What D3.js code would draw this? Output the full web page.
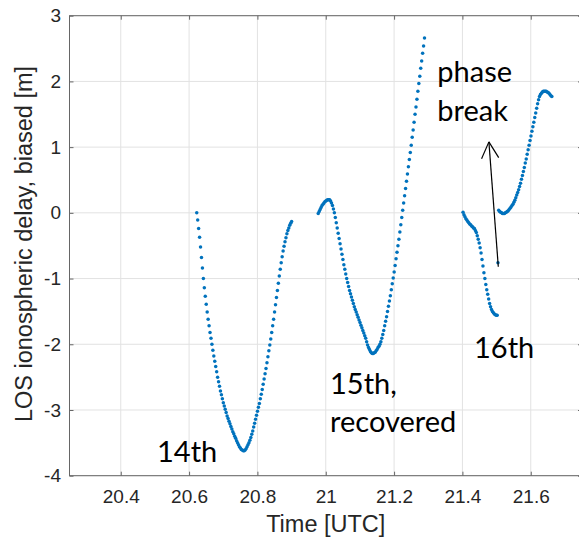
<!DOCTYPE html>
<html>
<head>
<meta charset="utf-8">
<script src="https://cdn.jsdelivr.net/npm/d3@7"></script>
<style>
  body { margin: 0; background: #fff; }
</style>
</head>
<body>
<div id="chart"></div>
<script>
// LOS ionospheric delay over three passes, 10 s samples
const width = 579, height = 539;
const plot = {left: 69.5, right: 582, top: 15.7, bottom: 475.7};
const tickFont = 19, labelFont = 23.5, noteFont = 29;

const xTicks = [20.4, 20.6, 20.8, 21, 21.2, 21.4, 21.6];
const yTicks = [-4, -3, -2, -1, 0, 1, 2, 3];

const sampleStep = 10 / 3600; // hours between samples
const passStart = [20.6224, 20.978, 21.4018, 21.5062];

const pass14 = [
  0.00, -0.11, -0.24, -0.37, -0.52, -0.68, -0.84, -1.00, -1.14, -1.27,
  -1.39, -1.51, -1.62, -1.72, -1.82, -1.91, -2.00, -2.09, -2.18, -2.26,
  -2.34, -2.42, -2.50, -2.57, -2.64, -2.71, -2.77, -2.83, -2.89, -2.94,
  -2.99, -3.04, -3.09, -3.13, -3.17, -3.21, -3.25, -3.29, -3.33, -3.36,
  -3.40, -3.43, -3.47, -3.50, -3.53, -3.56, -3.58, -3.60, -3.61, -3.62,
  -3.62, -3.61, -3.59, -3.56, -3.53, -3.50, -3.46, -3.42, -3.37, -3.32,
  -3.26, -3.20, -3.14, -3.08, -3.02, -2.96, -2.90, -2.83, -2.76, -2.69,
  -2.61, -2.53, -2.45, -2.37, -2.28, -2.19, -2.10, -2.01, -1.92, -1.82,
  -1.72, -1.62, -1.51, -1.40, -1.29, -1.18, -1.07, -0.96, -0.86, -0.76,
  -0.67, -0.58, -0.51, -0.44, -0.38, -0.32, -0.27, -0.23, -0.19, -0.16,
  -0.13
];

const pass15 = [
  -0.01, 0.02, 0.05, 0.08, 0.11, 0.13, 0.15, 0.17, 0.18, 0.19,
  0.20, 0.20, 0.20, 0.18, 0.15, 0.11, 0.06, 0.00, -0.07, -0.15,
  -0.23, -0.31, -0.39, -0.47, -0.55, -0.63, -0.71, -0.79, -0.86, -0.93,
  -1.00, -1.06, -1.12, -1.18, -1.23, -1.28, -1.33, -1.38, -1.43, -1.47,
  -1.51, -1.55, -1.59, -1.63, -1.67, -1.71, -1.75, -1.79, -1.83, -1.87,
  -1.91, -1.96, -2.01, -2.05, -2.08, -2.11, -2.13, -2.14, -2.14, -2.13,
  -2.12, -2.10, -2.08, -2.05, -2.03, -2.00, -1.96, -1.91, -1.85, -1.79,
  -1.72, -1.65, -1.58, -1.50, -1.42, -1.34, -1.26, -1.17, -1.08, -0.99,
  -0.90, -0.80, -0.70, -0.60, -0.50, -0.40, -0.29, -0.18, -0.07, 0.04,
  0.15, 0.26, 0.37, 0.48, 0.59, 0.70, 0.81, 0.92, 1.03, 1.15,
  1.26, 1.38, 1.50, 1.61, 1.73, 1.85, 1.97, 2.08, 2.20, 2.31,
  2.43, 2.54, 2.66
];

const pass16a = [
  0.01, -0.03, -0.06, -0.09, -0.11, -0.13, -0.15, -0.17, -0.18, -0.20,
  -0.21, -0.23, -0.24, -0.27, -0.30, -0.35, -0.40, -0.46, -0.53, -0.61,
  -0.71, -0.81, -0.91, -1.00, -1.09, -1.17, -1.24, -1.31, -1.38, -1.43,
  -1.47, -1.50, -1.52, -1.54, -1.55, -1.56, -1.56
];

const pass16b = [
  0.04, 0.02, 0.01, 0.00, -0.01, -0.01, -0.01, 0.00, 0.01, 0.02,
  0.03, 0.05, 0.07, 0.09, 0.11, 0.13, 0.16, 0.19, 0.23, 0.27,
  0.31, 0.35, 0.40, 0.45, 0.51, 0.57, 0.63, 0.69, 0.76, 0.82,
  0.89, 0.96, 1.03, 1.10, 1.17, 1.24, 1.31, 1.38, 1.45, 1.52,
  1.59, 1.66, 1.72, 1.77, 1.80, 1.82, 1.84, 1.85, 1.85, 1.85,
  1.85, 1.84, 1.83, 1.82, 1.80, 1.78, 1.77
];

// single sample sitting at the tail of the phase-break arrow
const breakSample = {t: 21.504, v: -0.76};

const notes = [
  {lines: ["14th"], t: 20.5062, v: -3.79},
  {lines: ["15th,", "recovered"], t: 21.0125, v: -2.75},
  {lines: ["16th"], t: 21.434, v: -2.216},
  {lines: ["phase", "break"], t: 21.3265, v: 1.985}
];
const arrowFrom = {t: 21.505, v: -0.82}, arrowTo = {t: 21.4775, v: 1.08};

const svg = d3.select("#chart").append("svg")
  .attr("width", width).attr("height", height).attr("viewBox", `0 0 ${width} ${height}`);

const x = d3.scaleLinear().domain([20.25, 21.75]).range([plot.left, plot.right]);
const y = d3.scaleLinear().domain([-4, 3]).range([plot.bottom, plot.top]);

// grid
svg.append("g").selectAll("line").data(xTicks).join("line")
  .attr("x1", d => x(d)).attr("x2", d => x(d))
  .attr("y1", plot.top).attr("y2", plot.bottom)
  .attr("stroke", "#e2e2e2").attr("stroke-width", 1);
svg.append("g").selectAll("line").data(yTicks).join("line")
  .attr("x1", plot.left).attr("x2", plot.right)
  .attr("y1", d => y(d)).attr("y2", d => y(d))
  .attr("stroke", "#e2e2e2").attr("stroke-width", 1);

// axes, inward ticks on all four sides
const fmt = d => String(+(+d).toFixed(1));
function styleAxis(g, labels) {
  g.select(".domain").remove();
  g.selectAll(".tick line").attr("stroke", "#666");
  g.selectAll("text").attr("font-family", "'Liberation Sans', Arial, sans-serif")
    .attr("font-size", tickFont).attr("fill", "#262626");
  if (!labels) g.selectAll("text").remove();
}
svg.append("g").attr("transform", `translate(0,${plot.bottom})`)
  .call(d3.axisBottom(x).tickValues(xTicks).tickFormat(fmt).tickSize(-4).tickPadding(14))
  .call(styleAxis, true);
svg.append("g").attr("transform", `translate(0,${plot.top})`)
  .call(d3.axisTop(x).tickValues(xTicks).tickSize(-4))
  .call(styleAxis, false);
svg.append("g").attr("transform", `translate(${plot.left},0)`)
  .call(d3.axisLeft(y).tickValues(yTicks).tickFormat(fmt).tickSize(-4).tickPadding(8.5))
  .call(styleAxis, true);
svg.append("g").attr("transform", `translate(${plot.right},0)`)
  .call(d3.axisRight(y).tickValues(yTicks).tickSize(-4))
  .call(styleAxis, false);

svg.append("rect").attr("x", plot.left).attr("y", plot.top)
  .attr("width", plot.right - plot.left).attr("height", plot.bottom - plot.top)
  .attr("fill", "none").attr("stroke", "#666").attr("stroke-width", 1);

// axis titles
svg.append("text").attr("x", (plot.left + plot.right) / 2).attr("y", 531.5)
  .attr("text-anchor", "middle").attr("font-family", "'Liberation Sans', Arial, sans-serif")
  .attr("font-size", labelFont).attr("fill", "#262626").text("Time [UTC]");
svg.append("text").attr("transform", "rotate(-90)")
  .attr("x", -244).attr("y", 32)
  .attr("text-anchor", "middle").attr("font-family", "'Liberation Sans', Arial, sans-serif")
  .attr("font-size", labelFont).attr("fill", "#262626").text("LOS ionospheric delay, biased [m]");

// samples
const passes = [pass14, pass15, pass16a, pass16b];
const points = [];
passes.forEach((vals, p) => vals.forEach((v, i) => points.push({t: passStart[p] + i * sampleStep, v})));
points.push(breakSample);

svg.append("g").selectAll("circle").data(points).join("circle")
  .attr("cx", d => x(d.t)).attr("cy", d => y(d.v)).attr("r", 1.75)
  .attr("fill", "#0072BD");

// annotations
notes.forEach(n => {
  const t = svg.append("text").attr("x", x(n.t)).attr("y", y(n.v))
    .attr("font-family", "Lato, 'Open Sans', sans-serif").attr("font-size", noteFont)
    .attr("fill", "#000");
  n.lines.forEach((line, i) => {
    t.append("tspan").attr("x", x(n.t)).attr("y", y(n.v) + i * 38.3).text(line);
  });
});

const ax0 = x(arrowFrom.t), ay0 = y(arrowFrom.v), ax1 = x(arrowTo.t), ay1 = y(arrowTo.v);
svg.append("line").attr("x1", ax0).attr("y1", ay0).attr("x2", ax1).attr("y2", ay1)
  .attr("stroke", "#000").attr("stroke-width", 1.2);
const ang = Math.atan2(ay0 - ay1, ax0 - ax1), barb = 18.5, spread = Math.PI / 6.5;
[ang - spread, ang + spread].forEach(a => {
  svg.append("line").attr("x1", ax1).attr("y1", ay1)
    .attr("x2", ax1 + barb * Math.cos(a)).attr("y2", ay1 + barb * Math.sin(a))
    .attr("stroke", "#000").attr("stroke-width", 1.2);
});
</script>
</body>
</html>
